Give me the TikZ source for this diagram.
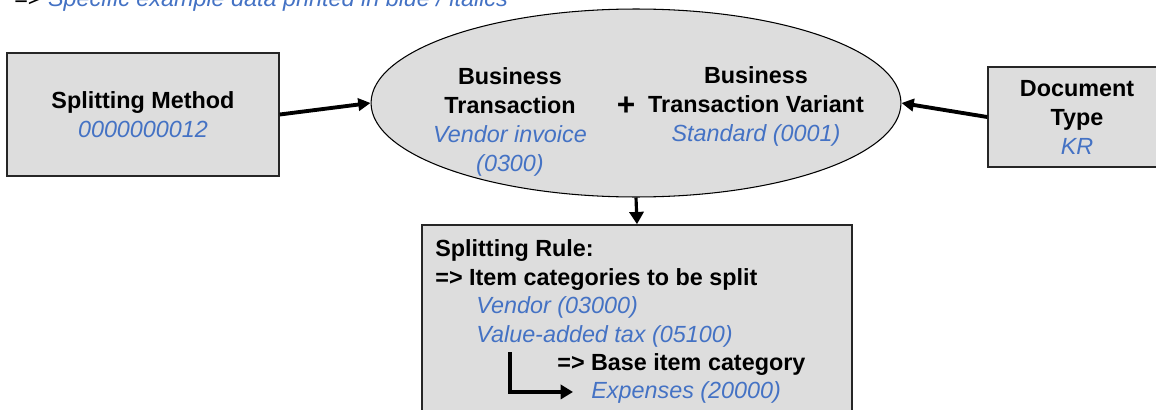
\documentclass[tikz,border=0pt]{standalone}
\usepackage{fontspec}
\setmainfont{Liberation Sans}
\usetikzlibrary{arrows.meta,shapes.geometric}
\definecolor{boxgray}{RGB}{221,221,221}
\definecolor{exblue}{RGB}{68,114,196}
\newcommand{\exdata}[1]{{\color{exblue}\itshape #1}}

\begin{document}
\begin{tikzpicture}[x=0.02cm, y=-0.02cm,
    every node/.style={font=\fontsize{13.3}{16.5}\selectfont},
    box/.style={draw=black!85, line width=0.9pt, fill=boxgray, align=center, inner sep=0pt},
    txt/.style={inner sep=0pt, anchor=base west},
    link/.style={line width=2.2pt, -{Triangle[length=7pt,width=7pt]}},
    elbow/.style={line width=1.8pt, -{Triangle[length=7pt,width=8pt]}}]
  \useasboundingbox (0,0) rectangle (1156,409);
  \node[txt] (legend) at (14,7) {=> \exdata{Specific example data printed in blue / italics}};
  % the three inputs
  \node[box, minimum width=5.44cm, minimum height=2.46cm] (method) at (143,114.5)
    {\textbf{Splitting Method}\\ \exdata{0000000012}};
  \node[box, minimum width=3.56cm, minimum height=2cm] (doctype) at (1077,117)
    {\textbf{Document}\\ \textbf{Type}\\ \exdata{KR}};
  \node[ellipse, draw=black, line width=0.6pt, fill=boxgray, inner sep=0pt,
        minimum width=10.6cm, minimum height=3.76cm] (trans) at (636,103) {};
  \node[align=center, inner sep=0pt] (bt) at (510,121.5)
    {\textbf{Business}\\ \textbf{Transaction}\\ \exdata{Vendor invoice}\\ \exdata{(0300)}};
  \node[inner sep=0pt, font=\fontsize{18}{20}\selectfont\bfseries] (plus) at (626,106) {+};
  \node[align=center, inner sep=0pt] (btv) at (756,106)
    {\textbf{Business}\\ \textbf{Transaction Variant}\\ \exdata{Standard (0001)}};
  % splitting rule
  \node[box, minimum width=8.6cm, minimum height=3.82cm] (rule) at (637,320.5) {};
  \node[txt] (rtitle) at (435,256) {\textbf{Splitting Rule:}};
  \node[txt] (rsplit) at (435,285) {\textbf{=> Item categories to be split}};
  \node[txt] (vendor) at (476,313) {\exdata{Vendor (03000)}};
  \node[txt] (vat) at (476,342) {\exdata{Value-added tax (05100)}};
  \node[txt] (rbase) at (557,370) {\textbf{=> Base item category}};
  \node[txt] (expenses) at (591,398) {\exdata{Expenses (20000)}};
  \coordinate (lstart) at (510,352);
  \draw[link] (method.east) -- (trans.west);
  \draw[link] (doctype.west) -- (trans.east);
  \draw[elbow] (trans.south) -- (rule.north);
  \draw[elbow, shorten >=0.36cm] (lstart) |- (expenses.west);
\end{tikzpicture}
\end{document}
